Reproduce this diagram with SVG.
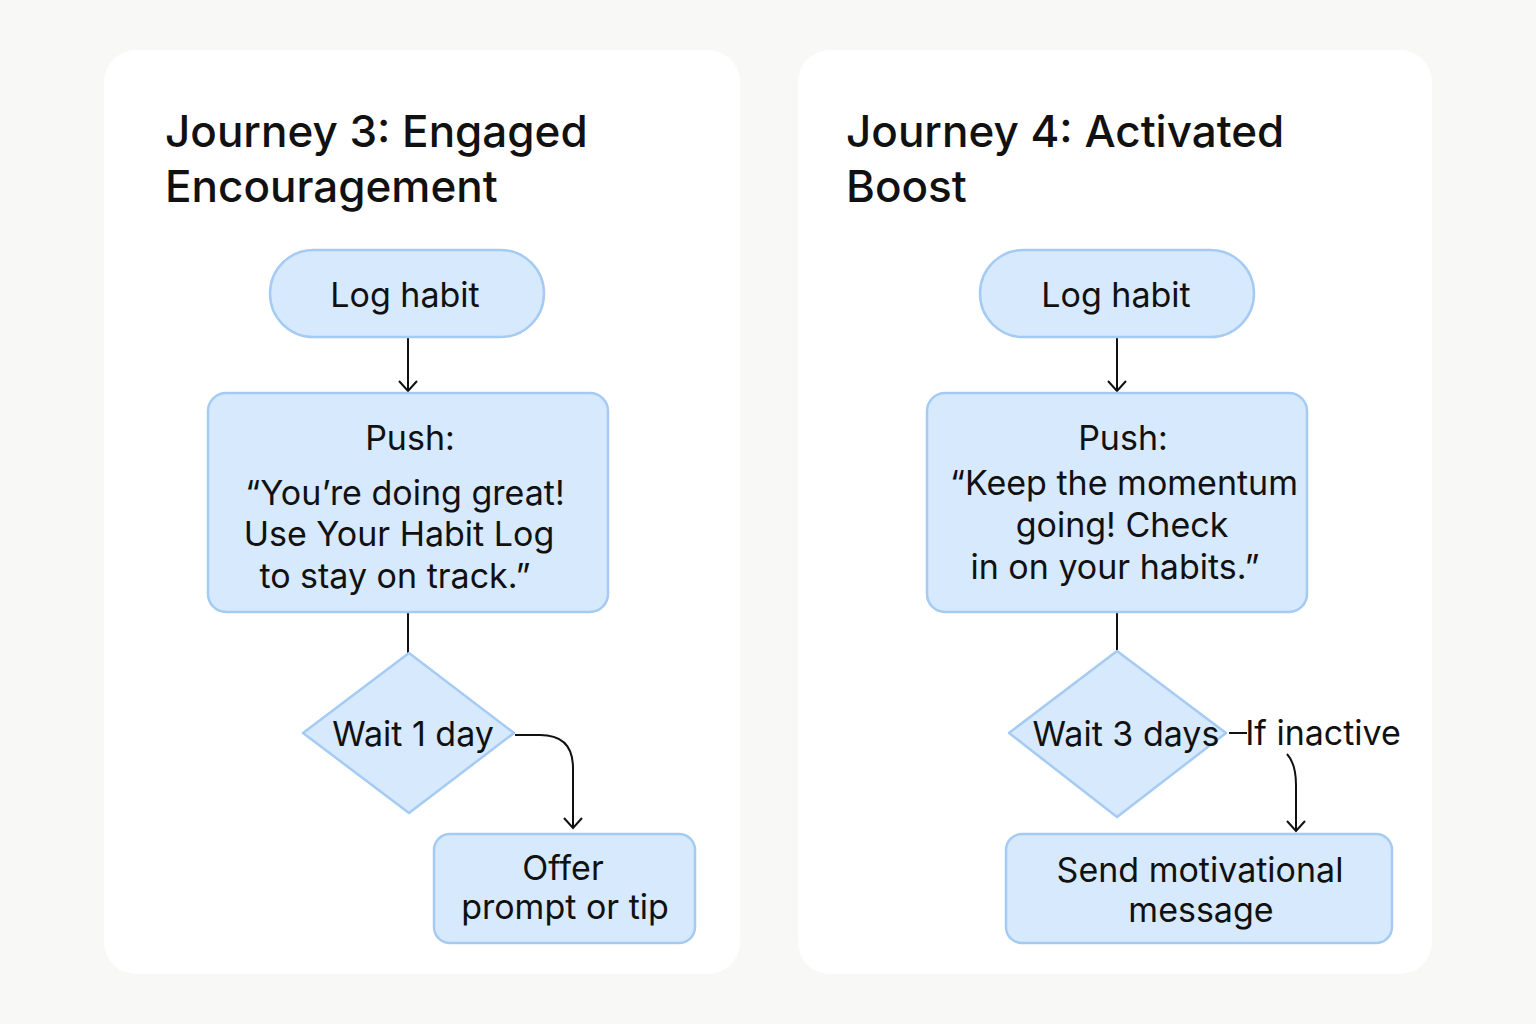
<svg xmlns="http://www.w3.org/2000/svg" width="1536" height="1024" viewBox="0 0 1536 1024">
<defs>
<marker id="arr" viewBox="0 0 20 20" refX="18" refY="10" markerWidth="20" markerHeight="20" markerUnits="userSpaceOnUse" orient="auto">
<path d="M8,1 L18,10 L8,19" fill="none" stroke="#111" stroke-width="2"/>
</marker>
<style>
.card{fill:#ffffff;}
.node{fill:#d6e9fd;stroke:#a6cbf3;stroke-width:2.5;}
.t{font-family:Inter,"Liberation Sans",sans-serif;fill:#111;text-anchor:middle;font-size:34px;}
.title{font-family:Inter,"Liberation Sans",sans-serif;fill:#111;font-size:44px;font-weight:500;}
.c{fill:none;stroke:#111;stroke-width:2;}
</style>
</defs>
<rect x="0" y="0" width="1536" height="1024" fill="#f8f8f7"/>
<rect class="card" x="104" y="50" width="636" height="924" rx="32"/>
<rect class="card" x="798" y="50" width="634" height="924" rx="32"/>
<text class="title" x="165" y="147">Journey 3: Engaged</text>
<text class="title" x="165" y="202">Encouragement</text>
<text class="title" x="846" y="147">Journey 4: Activated</text>
<text class="title" x="846" y="202">Boost</text>

<g id="connectors">
<line class="c" x1="408" y1="338" x2="408" y2="391" marker-end="url(#arr)"/>
<line class="c" x1="408" y1="613" x2="408" y2="653"/>
<path class="c" d="M515,735 H540 Q573,735 573,768 V828" marker-end="url(#arr)"/>
<line class="c" x1="1117" y1="338" x2="1117" y2="391" marker-end="url(#arr)"/>
<line class="c" x1="1117" y1="613" x2="1117" y2="651"/>
<line class="c" x1="1229" y1="733" x2="1247" y2="733"/>
<path class="c" d="M1287,754 Q1296,764 1296,785 V831" marker-end="url(#arr)"/>
</g>

<g id="j3-log">
<rect class="node" x="270" y="250" width="274" height="87" rx="43.5"/>
<text class="t" x="405" y="307">Log habit</text>
</g>
<g id="j3-push">
<rect class="node" x="208" y="393" width="400" height="219" rx="18"/>
<text class="t" x="410" y="450">Push:</text>
<text class="t" x="405" y="505">“You’re doing great!</text>
<text class="t" x="399" y="546">Use Your Habit Log</text>
<text class="t" x="395" y="588">to stay on track.”</text>
</g>
<g id="j3-wait">
<path class="node" d="M409,653 L514,733 L409,813 L303,733 Z" stroke-linejoin="round"/>
<text class="t" x="413" y="746">Wait 1 day</text>
</g>
<g id="j3-offer">
<rect class="node" x="434" y="834" width="261" height="109" rx="16"/>
<text class="t" x="563" y="880" font-size="33">Offer</text>
<text class="t" x="565" y="919" font-size="33">prompt or tip</text>
</g>

<g id="j4-log">
<rect class="node" x="980" y="250" width="274" height="87" rx="43.5"/>
<text class="t" x="1116" y="307">Log habit</text>
</g>
<g id="j4-push">
<rect class="node" x="927" y="393" width="380" height="219" rx="18"/>
<text class="t" x="1123" y="450">Push:</text>
<text class="t" x="1124" y="495" font-size="32">“Keep the momentum</text>
<text class="t" x="1122" y="537" font-size="32">going! Check</text>
<text class="t" x="1115" y="579" font-size="32">in on your habits.”</text>
</g>
<g id="j4-wait">
<path class="node" d="M1117,651 L1226,733 L1117,817 L1009,733 Z" stroke-linejoin="round"/>
<text class="t" x="1126" y="746" font-size="32">Wait 3 days</text>
</g>
<text class="t" x="1323" y="745" font-size="31">If inactive</text>
<g id="j4-send">
<rect class="node" x="1006" y="834" width="386" height="109" rx="16"/>
<text class="t" x="1200" y="882">Send motivational</text>
<text class="t" x="1201" y="922">message</text>
</g>
</svg>
